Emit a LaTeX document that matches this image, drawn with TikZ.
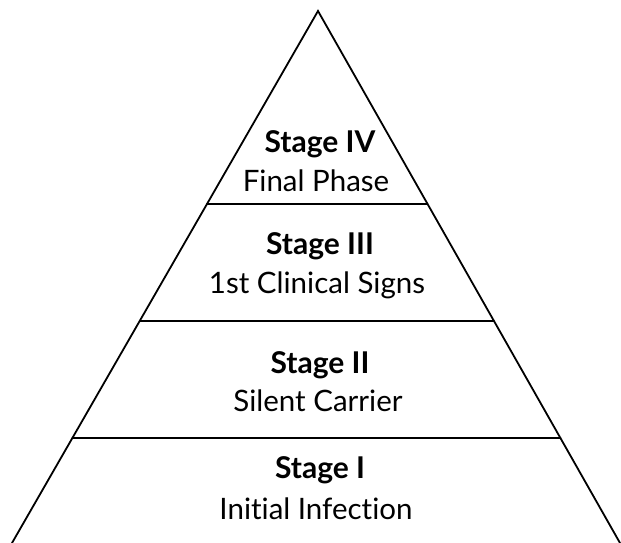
\documentclass[tikz,border=0pt]{standalone}
\usepackage{fontspec}
\setmainfont[Ligatures=NoCommon]{Lato}
\usetikzlibrary{calc}
\begin{document}
\begin{tikzpicture}[x=1pt,y=1pt,
  edge/.style={line width=1.8pt, line cap=round, line join=miter},
  title/.style={anchor=base, inner sep=0pt, font=\fontsize{30}{34}\selectfont\bfseries},
  sub/.style={anchor=base, inner sep=0pt, font=\fontsize{29.5}{34}\selectfont}]
\useasboundingbox (0,0) rectangle (621,543);
\coordinate (A) at (318,532);
\coordinate (L) at (12,0);
\coordinate (R) at (620,0);
\draw[edge] (L) -- (A) -- (R);
\coordinate (l1) at ($(A)!0.3628!(L)$);
\coordinate (r1) at ($(A)!0.3628!(R)$);
\coordinate (l2) at ($(A)!0.5827!(L)$);
\coordinate (r2) at ($(A)!0.5827!(R)$);
\coordinate (l3) at ($(A)!0.8026!(L)$);
\coordinate (r3) at ($(A)!0.8026!(R)$);
\draw[edge] (l1) -- (r1);
\draw[edge] (l2) -- (r2);
\draw[edge] (l3) -- (r3);
\node[title] (t4) at (320,390) {Stage IV};
\node[sub] (s4) at (316,351) {Final Phase};
\node[title] (t3) at (320,288) {Stage III};
\node[sub] (s3) at (317,249) {1st Clinical Signs};
\node[title] (t2) at (320,169) {Stage II};
\node[sub] (s2) at (318,131) {Silent Carrier};
\node[title] (t1) at (320,64) {Stage I};
\node[sub] (s1) at (316,23) {Initial Infection};
\end{tikzpicture}
\end{document}
